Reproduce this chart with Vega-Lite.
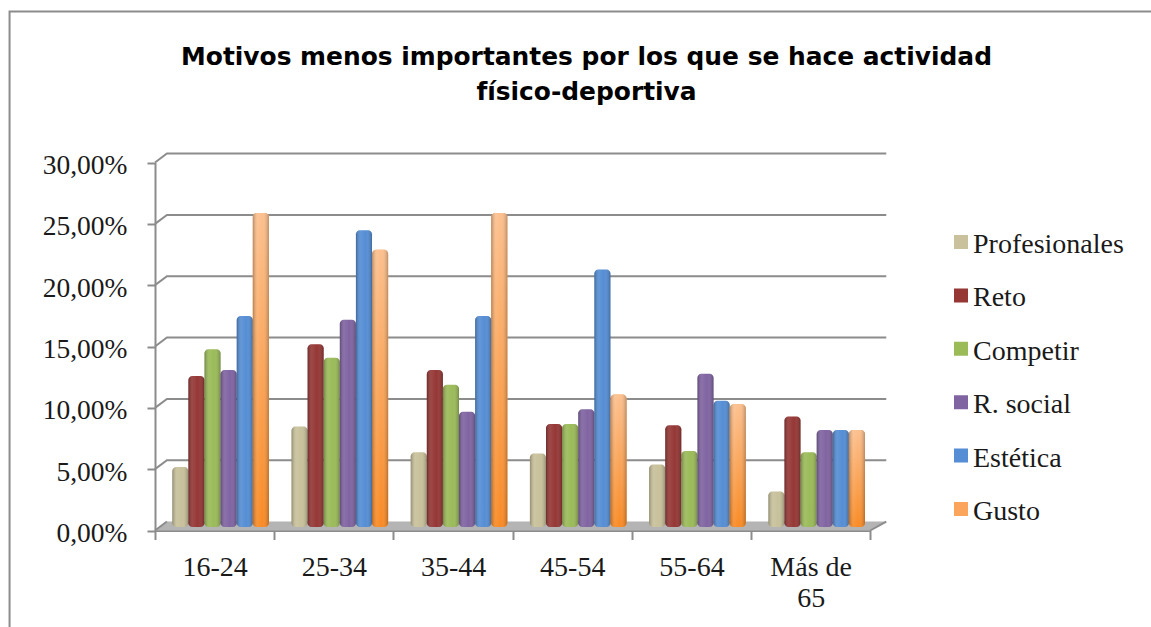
{
"$schema":"https://vega.github.io/schema/vega-lite/v6.json",
"width":1151,"height":627,"autosize":"none","padding":0,"background":"#ffffff",
"config":{"view":{"stroke":null}},
"title":{"text":["Motivos menos importantes por los que se hace actividad","físico-deportiva"],"font":"DejaVu Sans","fontWeight":"bold","fontSize":24.9,"color":"#000000","anchor":"middle","dx":11,"offset":-125,"lineHeight":35,"baseline":"alphabetic"},
"datasets":{
"bars":[
{"grupo":"16-24","motivo":"Profesionales","valor":4.9},{"grupo":"16-24","motivo":"Reto","valor":12.3},{"grupo":"16-24","motivo":"Competir","valor":14.5},{"grupo":"16-24","motivo":"R. social","valor":12.8},{"grupo":"16-24","motivo":"Estética","valor":17.2},{"grupo":"16-24","motivo":"Gusto","valor":25.6},
{"grupo":"25-34","motivo":"Profesionales","valor":8.2},{"grupo":"25-34","motivo":"Reto","valor":14.9},{"grupo":"25-34","motivo":"Competir","valor":13.8},{"grupo":"25-34","motivo":"R. social","valor":16.9},{"grupo":"25-34","motivo":"Estética","valor":24.2},{"grupo":"25-34","motivo":"Gusto","valor":22.6},
{"grupo":"35-44","motivo":"Profesionales","valor":6.1},{"grupo":"35-44","motivo":"Reto","valor":12.8},{"grupo":"35-44","motivo":"Competir","valor":11.6},{"grupo":"35-44","motivo":"R. social","valor":9.4},{"grupo":"35-44","motivo":"Estética","valor":17.2},{"grupo":"35-44","motivo":"Gusto","valor":25.6},
{"grupo":"45-54","motivo":"Profesionales","valor":6.0},{"grupo":"45-54","motivo":"Reto","valor":8.4},{"grupo":"45-54","motivo":"Competir","valor":8.4},{"grupo":"45-54","motivo":"R. social","valor":9.6},{"grupo":"45-54","motivo":"Estética","valor":21.0},{"grupo":"45-54","motivo":"Gusto","valor":10.8},
{"grupo":"55-64","motivo":"Profesionales","valor":5.1},{"grupo":"55-64","motivo":"Reto","valor":8.3},{"grupo":"55-64","motivo":"Competir","valor":6.2},{"grupo":"55-64","motivo":"R. social","valor":12.5},{"grupo":"55-64","motivo":"Estética","valor":10.3},{"grupo":"55-64","motivo":"Gusto","valor":10.0},
{"grupo":"Más de 65","motivo":"Profesionales","valor":2.9},{"grupo":"Más de 65","motivo":"Reto","valor":9.0},{"grupo":"Más de 65","motivo":"Competir","valor":6.1},{"grupo":"Más de 65","motivo":"R. social","valor":7.9},{"grupo":"Más de 65","motivo":"Estética","valor":7.9},{"grupo":"Más de 65","motivo":"Gusto","valor":7.9}
],
"lineas":[
{"l":"marco","o":1,"x":-1.22,"y":-8.2},{"l":"marco","o":2,"x":-1.22,"y":42.3},{"l":"marco","o":3,"x":9,"y":42.3},
{"l":"g0","o":1,"x":0,"y":0},{"l":"g0","o":2,"x":0.1,"y":0.73},
{"l":"g0b","o":1,"x":6,"y":0},{"l":"g0b","o":2,"x":6.134,"y":0.73},
{"l":"g5","o":1,"x":0,"y":5},{"l":"g5","o":2,"x":0.1,"y":5.73},{"l":"g5","o":3,"x":6.134,"y":5.73},
{"l":"g10","o":1,"x":0,"y":10},{"l":"g10","o":2,"x":0.1,"y":10.73},{"l":"g10","o":3,"x":6.134,"y":10.73},
{"l":"g15","o":1,"x":0,"y":15},{"l":"g15","o":2,"x":0.1,"y":15.73},{"l":"g15","o":3,"x":6.134,"y":15.73},
{"l":"g20","o":1,"x":0,"y":20},{"l":"g20","o":2,"x":0.1,"y":20.73},{"l":"g20","o":3,"x":6.134,"y":20.73},
{"l":"g25","o":1,"x":0,"y":25},{"l":"g25","o":2,"x":0.1,"y":25.73},{"l":"g25","o":3,"x":6.134,"y":25.73},
{"l":"g30","o":1,"x":0,"y":30},{"l":"g30","o":2,"x":0.1,"y":30.73},{"l":"g30","o":3,"x":6.134,"y":30.73}
],
"suelo":[
{"x":0,"y":0,"y2":0},{"x":0.1,"y":0.73,"y2":0},{"x":6,"y":0.73,"y2":0},{"x":6.134,"y":0.73,"y2":0.73}
]
},
"resolve":{"scale":{"x":"independent","xOffset":"independent"}},
"layer":[
{"data":{"name":"suelo"},"mark":{"type":"area","fill":"#b4b4b4","clip":false,"interpolate":"linear"},
 "encoding":{"x":{"field":"x","type":"quantitative","axis":null,"scale":{"domain":[0,6],"range":[155,870.3],"nice":false,"zero":false}},
 "y":{"field":"y","type":"quantitative","stack":null,"title":null,"scale":{"domain":[0,30],"range":[530.5,162.5],"nice":false},
  "axis":{"orient":"left","offset":-155,"grid":false,"values":[0,5,10,15,20,25,30],"domainColor":"#8c8c8c","domainWidth":2,"tickColor":"#8c8c8c","tickWidth":2,"tickSize":8,"labelFont":"Liberation Serif","labelFontSize":27.5,"labelColor":"#1a1a1a","labelPadding":20,"labelOffset":3,"labelExpr":"replace(format(datum.value,'.2f'),'.',',')+'%'"}},"y2":{"field":"y2"}}},
{"data":{"name":"lineas"},"mark":{"type":"line","stroke":"#8c8c8c","strokeWidth":2,"clip":false},
 "encoding":{"x":{"field":"x","type":"quantitative","axis":null,"scale":{"domain":[0,6],"range":[155,870.3],"nice":false,"zero":false}},
 "y":{"field":"y","type":"quantitative","title":null},"detail":{"field":"l"},"order":{"field":"o"}}},
{"data":{"name":"bars"},"mark":{"type":"bar","yOffset":-3.5,"y2Offset":-3.5,"cornerRadius":4},
 "encoding":{
 "x":{"field":"grupo","type":"nominal","title":null,"scale":{"range":[155,870.3],"paddingInner":0,"paddingOuter":0},
  "axis":{"orient":"bottom","offset":-96.5,"tickBand":"extent","domainColor":"#8c8c8c","domainWidth":2,"tickColor":"#8c8c8c","tickWidth":2,"tickSize":9,"labelAngle":0,"labelFont":"Liberation Serif","labelFontSize":28,"labelColor":"#1a1a1a","labelPadding":14,"labelBaseline":"top","labelLineHeight":31,"labelExpr":"datum.label == 'Más de 65' ? ['Más de','65'] : datum.label"}},
 "xOffset":{"field":"motivo","type":"nominal","sort":null,"scale":{"domain":["Profesionales","Reto","Competir","R. social","Estética","Gusto"],"paddingInner":0,"paddingOuter":0.7,"align":0.765}},
 "y":{"field":"valor","type":"quantitative","stack":null,"title":null},
 "y2":{"datum":0},
 "color":{"field":"motivo","type":"nominal","title":null,
  "scale":{"domain":["Profesionales","Reto","Competir","R. social","Estética","Gusto"],"range":["#c8c19b","#953735","#9bbb59","#8064a2","#558ed5","#fba55c"]},
  "legend":{"orient":"none","legendX":947,"legendY":226,"symbolType":"square","symbolSize":196,"symbolStrokeWidth":0,"labelFont":"Liberation Serif","labelFontSize":28,"labelColor":"#1a1a1a","labelOffset":-2,"rowPadding":20.4,"clipHeight":32,"encode":{"labels":{"update":{"dy":{"value":3}}}}}}
 }},
{"data":{"name":"bars"},"transform":[{"filter":"datum.motivo === 'Gusto'"}],"mark":{"type":"bar","yOffset":-3.5,"y2Offset":-3.5,"cornerRadius":4,
 "fill":{"gradient":"linear","x1":0,"y1":0,"x2":0,"y2":1,"stops":[{"offset":0,"color":"#fcc08e"},{"offset":1,"color":"#f98a24"}]}},
 "encoding":{
 "x":{"field":"grupo","type":"nominal","axis":null,"scale":{"domain":["16-24","25-34","35-44","45-54","55-64","Más de 65"],"range":[155,870.3],"paddingInner":0,"paddingOuter":0}},
 "xOffset":{"field":"motivo","type":"nominal","sort":null,"scale":{"domain":["Profesionales","Reto","Competir","R. social","Estética","Gusto"],"paddingInner":0,"paddingOuter":0.7,"align":0.765}},
 "y":{"field":"valor","type":"quantitative","stack":null,"title":null},
 "y2":{"datum":0}
 }},
{"data":{"name":"bars"},"mark":{"type":"bar","yOffset":-3.5,"y2Offset":-3.5,"cornerRadius":4,
 "fill":{"gradient":"linear","x1":0,"y1":0,"x2":1,"y2":0,"stops":[{"offset":0,"color":"rgba(0,0,0,0.28)"},{"offset":0.3,"color":"rgba(255,255,255,0.08)"},{"offset":0.6,"color":"rgba(255,255,255,0)"},{"offset":1,"color":"rgba(0,0,0,0.25)"}]}},
 "encoding":{
 "x":{"field":"grupo","type":"nominal","axis":null,"scale":{"domain":["16-24","25-34","35-44","45-54","55-64","Más de 65"],"range":[155,870.3],"paddingInner":0,"paddingOuter":0}},
 "xOffset":{"field":"motivo","type":"nominal","sort":null,"scale":{"domain":["Profesionales","Reto","Competir","R. social","Estética","Gusto"],"paddingInner":0,"paddingOuter":0.7,"align":0.765}},
 "y":{"field":"valor","type":"quantitative","stack":null,"title":null},
 "y2":{"datum":0}
 }}
]
}
